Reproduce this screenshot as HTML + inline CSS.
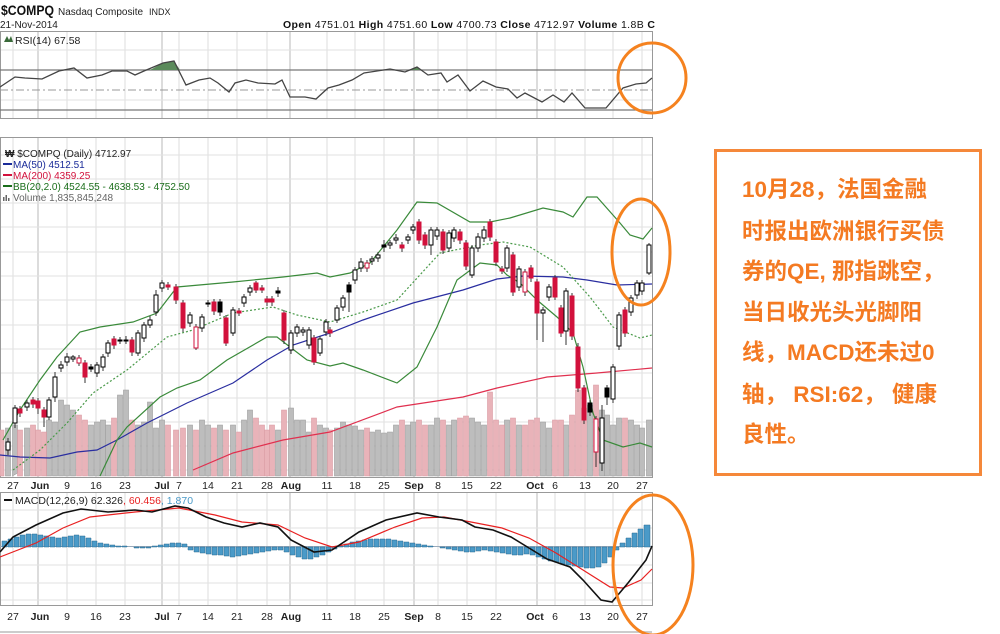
<!DOCTYPE html>
<html><head><meta charset="utf-8">
<style>
html,body{margin:0;padding:0;background:#fff;width:1000px;height:634px;overflow:hidden;}
.box{position:absolute;left:714px;top:149px;width:262px;height:321px;border:3px solid #f5883a;}
.t{position:absolute;left:742px;white-space:nowrap;font-family:"Liberation Sans","Noto Sans CJK SC",sans-serif;font-weight:bold;font-size:22.5px;line-height:26px;color:#f47a22;}
svg text{font-family:"Liberation Sans",sans-serif;}
.w{fill:#fff;stroke:#000;stroke-width:1}
.r{fill:#d2113c;stroke:#d2113c;stroke-width:1}
.k{fill:#000;stroke:#000;stroke-width:1}
.rw{fill:#fff;stroke:#d2113c;stroke-width:1}
</style></head><body>
<svg width="1000" height="634" style="position:absolute;left:0;top:0">
<rect x="0" y="0" width="1000" height="634" fill="#fff"/>
<!-- header -->
<text x="1" y="15" font-size="14" font-weight="bold" fill="#111" textLength="53" lengthAdjust="spacingAndGlyphs">$COMPQ</text>
<text x="58" y="15" font-size="10" fill="#222">Nasdaq Composite</text>
<text x="149" y="15" font-size="9" fill="#222">INDX</text>
<text x="0" y="28" font-size="10" fill="#222">21-Nov-2014</text>
<text x="283" y="28" font-size="10.5" fill="#111" textLength="372" lengthAdjust="spacing"><tspan font-weight="bold">Open</tspan> 4751.01 <tspan font-weight="bold">High</tspan> 4751.60 <tspan font-weight="bold">Low</tspan> 4700.73 <tspan font-weight="bold">Close</tspan> 4712.97 <tspan font-weight="bold">Volume</tspan> 1.8B <tspan font-weight="bold">C</tspan></text>

<!-- vertical gridlines all panels -->
<g stroke="#dcdcdc" stroke-width="1">
<path d="M13 31V118M13 137V477M13 492V605M67 31V118M67 137V477M67 492V605M96 31V118M96 137V477M96 492V605M125 31V118M125 137V477M125 492V605M179 31V118M179 137V477M179 492V605M208 31V118M208 137V477M208 492V605M237 31V118M237 137V477M237 492V605M267 31V118M267 137V477M267 492V605M327 31V118M327 137V477M327 492V605M355 31V118M355 137V477M355 492V605M384 31V118M384 137V477M384 492V605M438 31V118M438 137V477M438 492V605M467 31V118M467 137V477M467 492V605M496 31V118M496 137V477M496 492V605M555 31V118M555 137V477M555 492V605M585 31V118M585 137V477M585 492V605M613 31V118M613 137V477M613 492V605M642 31V118M642 137V477M642 492V605"/>
</g>
<g stroke="#b8b8b8" stroke-width="1">
<path d="M38 31V118M38 137V477M38 492V605M162 31V118M162 137V477M162 492V605M290 31V118M290 137V477M290 492V605M414 31V118M414 137V477M414 492V605M537 31V118M537 137V477M537 492V605"/>
</g>
<g stroke="#e2e2e2" stroke-width="1">
<path d="M0 155H652M0 179H652M0 203H652M0 227H652M0 252H652M0 276H652M0 300H652M0 325H652M0 349H652M0 373H652M0 398H652M0 422H652M0 446H652M0 470H652"/>
<path d="M0 510H652M0 528H652M0 565H652M0 583H652M0 600H652"/>
<path d="M0 50H652M0 100H652"/>
</g>
<g fill="none" stroke="#999" stroke-width="1">
<rect x="0.5" y="31.5" width="652" height="87"/>
<rect x="0.5" y="137.5" width="652" height="340"/>
<rect x="0.5" y="492.5" width="652" height="113"/>
</g>
<line x1="0" y1="632" x2="652" y2="632" stroke="#ccc" stroke-width="2"/>

<!-- RSI -->
<line x1="0" y1="70" x2="652" y2="70" stroke="#777" stroke-width="1.2"/>
<line x1="0" y1="110" x2="652" y2="110" stroke="#777" stroke-width="1.2"/>
<line x1="0" y1="90" x2="652" y2="90" stroke="#999" stroke-width="1" stroke-dasharray="8,3,2,3"/>
<path d="M150 70L163 63L174 61L180 70Z" fill="#5a8a5a"/>
<path d="M410 70L417 67L420 70Z" fill="#5a8a5a"/>
<polyline fill="none" stroke="#444" stroke-width="1.3" points="0,87 15,77 25,78 42,79 59,71 74,68 87,78 102,75 112,71 127,71 135,75 144,71 163,63 174,61 186,85 199,80 210,78 218,83 229,92 235,83 246,80 258,83 275,84 282,80 290,97 305,97 316,99 328,88 339,85 352,80 364,73 390,69 405,72 417,67 428,75 441,73 447,82 458,75 470,91 483,81 496,87 508,89 517,98 525,93 542,102 553,95 564,102 572,93 585,108 606,108 623,88 636,84 646,83 652,78"/>
<path d="M4 42l3-6 2 4 2-4 2 6z" fill="#3a6a3a"/>
<text x="15" y="44" font-size="10.5" fill="#222">RSI(14) 67.58</text>

<!-- main legend -->
<text x="5" y="157" font-size="10" fill="#222"><tspan font-weight="bold">₩</tspan> $COMPQ (Daily) 4712.97</text>
<line x1="3" y1="164" x2="12" y2="164" stroke="#1a2b99" stroke-width="2"/>
<text x="13" y="168" font-size="10" fill="#1a2b99">MA(50) 4512.51</text>
<line x1="3" y1="175" x2="12" y2="175" stroke="#d2113c" stroke-width="2"/>
<text x="13" y="179" font-size="10" fill="#d2113c">MA(200) 4359.25</text>
<line x1="3" y1="186" x2="12" y2="186" stroke="#1a6e1a" stroke-width="2"/>
<text x="13" y="190" font-size="10" fill="#1a6e1a">BB(20,2.0) 4524.55 - 4638.53 - 4752.50</text>
<path d="M3 201v-4h1.5v4zM5.5 201v-6h1.5v6zM8 201v-3h1.5v3z" fill="#666"/>
<text x="13" y="201" font-size="10" fill="#666">Volume 1,835,845,248</text>

<!-- volume -->
<path fill="#bdbdbd" stroke="#9a9a9a" stroke-width="0.6" d="M5.5 476V428h5v48zM12.5 476V425h5v48zM24.5 476V428h5v48zM46.5 476V420h5v56zM52.5 476V422h5v54zM58.5 476V400h5v76zM64.5 476V405h5v71zM70.5 476V410h5v66zM88.5 476V425h5v51zM94.5 476V422h5v54zM100.5 476V420h5v56zM105.5 476V425h5v51zM117.5 476V395h5v81zM123.5 476V390h5v86zM135.5 476V425h5v51zM141.5 476V422h5v54zM147.5 476V402h5v74zM153.5 476V428h5v48zM159.5 476V420h5v56zM187.5 476V425h5v51zM199.5 476V420h5v56zM205.5 476V425h5v51zM217.5 476V425h5v51zM230.5 476V425h5v51zM241.5 476V420h5v56zM247.5 476V410h5v66zM275.5 476V430h5v46zM288.5 476V408h5v68zM294.5 476V420h5v56zM300.5 476V420h5v56zM306.5 476V432h5v44zM317.5 476V425h5v51zM323.5 476V428h5v48zM334.5 476V428h5v48zM340.5 476V422h5v54zM346.5 476V425h5v51zM352.5 476V426h5v50zM358.5 476V430h5v46zM369.5 476V432h5v44zM375.5 476V430h5v46zM381.5 476V433h5v43zM387.5 476V432h5v44zM393.5 476V425h5v51zM405.5 476V425h5v51zM410.5 476V422h5v54zM428.5 476V425h5v51zM434.5 476V418h5v58zM446.5 476V425h5v51zM451.5 476V420h5v56zM469.5 476V418h5v58zM475.5 476V422h5v54zM481.5 476V425h5v51zM504.5 476V420h5v56zM516.5 476V425h5v51zM540.5 476V422h5v54zM546.5 476V428h5v48zM563.5 476V425h5v51zM587.5 476V405h5v71zM599.5 476V410h5v66zM604.5 476V415h5v61zM610.5 476V425h5v51zM616.5 476V418h5v58zM628.5 476V420h5v56zM634.5 476V425h5v51zM639.5 476V428h5v48zM646.5 476V420h5v56z"/>
<path fill="#e9b3b9" stroke="#d99aa2" stroke-width="0.6" d="M0 476V430h4v46zM17.5 476V430h5v46zM30.5 476V425h5v51zM35.5 476V430h5v46zM41.5 476V432h5v44zM76.5 476V415h5v61zM82.5 476V420h5v56zM111.5 476V418h5v58zM129.5 476V420h5v56zM165.5 476V425h5v51zM173.5 476V430h5v46zM180.5 476V428h5v48zM193.5 476V430h5v46zM211.5 476V428h5v48zM223.5 476V430h5v46zM236.5 476V432h5v44zM253.5 476V418h5v58zM259.5 476V425h5v51zM264.5 476V430h5v46zM269.5 476V425h5v51zM281.5 476V410h5v66zM311.5 476V418h5v58zM327.5 476V430h5v46zM364.5 476V428h5v48zM399.5 476V420h5v56zM416.5 476V420h5v56zM422.5 476V425h5v51zM440.5 476V420h5v56zM457.5 476V418h5v58zM463.5 476V416h5v60zM487.5 476V392h5v84zM493.5 476V420h5v56zM499.5 476V425h5v51zM510.5 476V418h5v58zM522.5 476V425h5v51zM528.5 476V420h5v56zM534.5 476V418h5v58zM552.5 476V420h5v56zM558.5 476V420h5v56zM569.5 476V415h5v61zM575.5 476V390h5v86zM581.5 476V408h5v68zM593.5 476V385h5v91zM622.5 476V418h5v58z"/>

<polyline fill="none" stroke="#e0304f" stroke-width="1.2" points="193,470 233,453 283,440 330,432 397,407 463,397 497,388 547,377 597,373 652,368"/>
<polyline fill="none" stroke="#2a2ea0" stroke-width="1.2" points="0,455 20,457 50,458 77,452 97,450 117,440 147,423 187,403 233,383 267,360 293,345 330,333 363,320 413,303 463,290 497,279 523,276 563,277 587,280 617,285 652,284"/>
<polyline fill="none" stroke="#3a8a3a" stroke-width="1.2" points="3,440 20,410 40,380 57,357 80,332 100,327 133,322 157,313 177,287 233,282 283,277 317,273 330,277 350,273 370,263 397,230 417,202 437,203 470,222 490,222 510,218 543,208 563,212 573,217 587,197 597,197 620,223 630,235 643,239 652,228"/>
<polyline fill="none" stroke="#3a8a3a" stroke-width="1.2" points="100,476 117,440 127,427 160,397 177,388 200,380 227,360 267,337 277,337 290,347 307,360 330,366 343,363 363,370 397,383 417,367 437,327 457,280 480,263 497,265 507,275 520,283 537,300 557,317 573,333 583,367 593,413 603,440 623,447 640,443 652,447"/>
<polyline fill="none" stroke="#4a9a4a" stroke-width="1.2" stroke-dasharray="2,2" points="13,470 40,450 67,423 93,393 127,370 167,337 193,330 233,313 273,307 297,315 330,322 363,312 397,300 440,253 480,245 503,242 530,247 563,267 590,297 613,327 640,338 652,335"/>

<path stroke="#333" stroke-width="1" fill="none" d="M8 438V455M15 405V428M20 406V417M27 400V411M33 397V408M38 398V414M44 407V427M49 397V420M55 372V402M61 361V372M67 353V366M73 355V362M79 355V366M85 360V383M91 364V372M97 362V377M103 354V371M108 340V357M114 336V349M120 337V344M126 336V344M132 337V356M138 330V356M144 322V342M150 316V328M156 290V316M162 280V292M168 282V290M176 284V304M183 300V332M190 312V327M196 324V350M202 314V332M208 300V307M214 299V315M220 299V316M226 315V346M233 307V336M239 308V316M244 294V307M250 285V296M256 281V293M262 285V293M267 296V306M272 296V306M278 287V297M284 310V344M291 330V354M297 324V337M303 327V336M309 327V349M314 335V365M320 336V356M326 319V336M330 327V337M337 305V323M343 295V311M349 282V312M355 267V284M361 258V272M367 260V272M372 256V265M378 252V262M384 240V252M390 240V249M396 234V244M402 242V252M408 234V244M413 224V234M419 219V244M425 232V249M431 227V255M437 227V240M443 229V254M449 230V252M454 227V242M460 229V244M466 240V270M472 245V278M478 233V252M484 226V242M490 219V241M496 239V266M502 266V274M507 245V272M513 252V296M519 266V291M525 269V296M531 265V282M537 279V340M543 307V342M549 284V301M555 275V300M561 305V337M566 288V345M572 293V340M578 343V392M584 385V424M590 400V416M596 416V467M602 405V471M607 385V405M613 364V403M619 312V350M625 307V337M631 295V316M637 280V299M642 280V295M649 243V275"/>
<g>
<rect x="6" y="442" width="4" height="8" class="w"/><rect x="13" y="408" width="4" height="15" class="w"/><rect x="18" y="409" width="4" height="4" class="r"/><rect x="25" y="403" width="4" height="4" class="w"/><rect x="31" y="400" width="4" height="4" class="r"/><rect x="36" y="401" width="4" height="7" class="r"/><rect x="42" y="410" width="4" height="7" class="r"/><rect x="47" y="400" width="4" height="17" class="w"/><rect x="53" y="377" width="4" height="20" class="w"/><rect x="59" y="365" width="4" height="3" class="w"/><rect x="65" y="357" width="4" height="5" class="w"/><rect x="71" y="357" width="4" height="2" class="w"/><rect x="77" y="358" width="4" height="5" class="rw"/><rect x="83" y="363" width="4" height="14" class="r"/><rect x="89" y="367" width="4" height="2" class="k"/><rect x="95" y="365" width="4" height="8" class="w"/><rect x="101" y="357" width="4" height="10" class="w"/><rect x="106" y="343" width="4" height="10" class="w"/><rect x="112" y="339" width="4" height="6" class="r"/><rect x="118" y="340" width="4" height="1" class="k"/><rect x="124" y="340" width="4" height="1" class="k"/><rect x="130" y="340" width="4" height="12" class="r"/><rect x="136" y="333" width="4" height="20" class="w"/><rect x="142" y="325" width="4" height="13" class="w"/><rect x="148" y="320" width="4" height="5" class="w"/><rect x="154" y="295" width="4" height="17" class="w"/><rect x="160" y="283" width="4" height="5" class="w"/><rect x="166" y="285" width="4" height="2" class="r"/><rect x="174" y="287" width="4" height="13" class="r"/><rect x="181" y="303" width="4" height="25" class="r"/><rect x="188" y="315" width="4" height="8" class="w"/><rect x="194" y="327" width="4" height="21" class="rw"/><rect x="200" y="317" width="4" height="11" class="w"/><rect x="206" y="303" width="4" height="1" class="k"/><rect x="212" y="302" width="4" height="9" class="r"/><rect x="218" y="302" width="4" height="10" class="k"/><rect x="224" y="318" width="4" height="25" class="r"/><rect x="231" y="310" width="4" height="23" class="w"/><rect x="237" y="311" width="4" height="2" class="r"/><rect x="242" y="297" width="4" height="6" class="w"/><rect x="248" y="288" width="4" height="4" class="w"/><rect x="254" y="283" width="4" height="7" class="r"/><rect x="260" y="288" width="4" height="2" class="r"/><rect x="265" y="299" width="4" height="3" class="r"/><rect x="270" y="299" width="4" height="3" class="r"/><rect x="276" y="291" width="4" height="2" class="k"/><rect x="282" y="313" width="4" height="27" class="r"/><rect x="289" y="333" width="4" height="17" class="w"/><rect x="295" y="327" width="4" height="6" class="w"/><rect x="301" y="330" width="4" height="2" class="w"/><rect x="307" y="330" width="4" height="15" class="w"/><rect x="312" y="338" width="4" height="24" class="r"/><rect x="318" y="339" width="4" height="14" class="w"/><rect x="324" y="322" width="4" height="10" class="w"/><rect x="328" y="330" width="4" height="3" class="r"/><rect x="335" y="308" width="4" height="12" class="w"/><rect x="341" y="298" width="4" height="9" class="w"/><rect x="347" y="285" width="4" height="7" class="k"/><rect x="353" y="270" width="4" height="10" class="w"/><rect x="359" y="262" width="4" height="6" class="w"/><rect x="365" y="263" width="4" height="5" class="rw"/><rect x="370" y="259" width="4" height="2" class="w"/><rect x="376" y="255" width="4" height="3" class="w"/><rect x="382" y="245" width="4" height="2" class="k"/><rect x="388" y="243" width="4" height="2" class="w"/><rect x="394" y="238" width="4" height="2" class="w"/><rect x="400" y="245" width="4" height="3" class="r"/><rect x="406" y="237" width="4" height="3" class="w"/><rect x="411" y="227" width="4" height="3" class="w"/><rect x="417" y="222" width="4" height="18" class="r"/><rect x="423" y="235" width="4" height="10" class="r"/><rect x="429" y="230" width="4" height="15" class="w"/><rect x="435" y="230" width="4" height="6" class="w"/><rect x="441" y="232" width="4" height="18" class="r"/><rect x="447" y="233" width="4" height="15" class="w"/><rect x="452" y="230" width="4" height="8" class="w"/><rect x="458" y="232" width="4" height="8" class="r"/><rect x="464" y="243" width="4" height="23" class="r"/><rect x="470" y="248" width="4" height="27" class="w"/><rect x="476" y="237" width="4" height="11" class="w"/><rect x="482" y="230" width="4" height="8" class="w"/><rect x="488" y="222" width="4" height="15" class="r"/><rect x="494" y="242" width="4" height="20" class="r"/><rect x="500" y="269" width="4" height="2" class="r"/><rect x="505" y="248" width="4" height="20" class="w"/><rect x="511" y="255" width="4" height="37" class="r"/><rect x="517" y="269" width="4" height="18" class="w"/><rect x="523" y="272" width="4" height="20" class="rw"/><rect x="529" y="268" width="4" height="10" class="r"/><rect x="535" y="282" width="4" height="31" class="r"/><rect x="541" y="310" width="4" height="3" class="w"/><rect x="547" y="287" width="4" height="10" class="w"/><rect x="553" y="278" width="4" height="19" class="r"/><rect x="559" y="308" width="4" height="25" class="r"/><rect x="564" y="291" width="4" height="40" class="w"/><rect x="570" y="296" width="4" height="40" class="r"/><rect x="576" y="347" width="4" height="41" class="r"/><rect x="582" y="388" width="4" height="32" class="r"/><rect x="588" y="403" width="4" height="9" class="k"/><rect x="594" y="419" width="4" height="33" class="rw"/><rect x="600" y="418" width="4" height="45" class="w"/><rect x="605" y="388" width="4" height="9" class="k"/><rect x="611" y="367" width="4" height="32" class="w"/><rect x="617" y="315" width="4" height="31" class="w"/><rect x="623" y="310" width="4" height="23" class="r"/><rect x="629" y="298" width="4" height="14" class="w"/><rect x="635" y="283" width="4" height="12" class="w"/><rect x="640" y="283" width="4" height="8" class="w"/><rect x="647" y="245" width="4" height="28" class="w"/>
</g>

<g font-size="10.5" fill="#222" text-anchor="middle">
<text x="13" y="489">27</text><text x="40" y="489" font-weight="bold">Jun</text><text x="67" y="489">9</text><text x="96" y="489">16</text><text x="125" y="489">23</text><text x="162" y="489" font-weight="bold">Jul</text><text x="179" y="489">7</text><text x="208" y="489">14</text><text x="237" y="489">21</text><text x="267" y="489">28</text><text x="291" y="489" font-weight="bold">Aug</text><text x="327" y="489">11</text><text x="355" y="489">18</text><text x="384" y="489">25</text><text x="414" y="489" font-weight="bold">Sep</text><text x="438" y="489">8</text><text x="467" y="489">15</text><text x="496" y="489">22</text><text x="535" y="489" font-weight="bold">Oct</text><text x="555" y="489">6</text><text x="585" y="489">13</text><text x="613" y="489">20</text><text x="642" y="489">27</text>
<text x="13" y="620">27</text><text x="40" y="620" font-weight="bold">Jun</text><text x="67" y="620">9</text><text x="96" y="620">16</text><text x="125" y="620">23</text><text x="162" y="620" font-weight="bold">Jul</text><text x="179" y="620">7</text><text x="208" y="620">14</text><text x="237" y="620">21</text><text x="267" y="620">28</text><text x="291" y="620" font-weight="bold">Aug</text><text x="327" y="620">11</text><text x="355" y="620">18</text><text x="384" y="620">25</text><text x="414" y="620" font-weight="bold">Sep</text><text x="438" y="620">8</text><text x="467" y="620">15</text><text x="496" y="620">22</text><text x="535" y="620" font-weight="bold">Oct</text><text x="555" y="620">6</text><text x="585" y="620">13</text><text x="613" y="620">20</text><text x="642" y="620">27</text>
</g>

<line x1="0" y1="546.5" x2="652" y2="546.5" stroke="#9ab" stroke-width="1"/>
<path fill="#4a9ac8" stroke="#2a6a90" stroke-width="0.5" d="M2 547v-6h5v6zM8 547v-8h5v8zM14 547v-10h5v10zM20 547v-12h5v12zM26 547v-13h5v13zM32 547v-13h5v13zM38 547v-12h5v12zM44 547v-11h5v11zM50 547v-10h5v10zM56 547v-9h5v9zM62 547v-10h5v10zM68 547v-11h5v11zM74 547v-12h5v12zM80 547v-11h5v11zM86 547v-9h5v9zM92 547v-6h5v6zM98 547v-4h5v4zM104 547v-3h5v3zM110 547v-2h5v2zM116 547v-1h5v1zM122 547v-1h5v1zM134 547v1h5v-1zM140 547v1h5v-1zM146 547v1h5v-1zM152 547v-1h5v1zM158 547v-2h5v2zM164 547v-3h5v3zM170 547v-4h5v4zM176 547v-4h5v4zM182 547v-3h5v3zM188 547v3h5v-3zM194 547v5h5v-5zM200 547v6h5v-6zM206 547v7h5v-7zM212 547v8h5v-8zM218 547v8h5v-8zM224 547v9h5v-9zM230 547v10h5v-10zM236 547v9h5v-9zM242 547v8h5v-8zM248 547v7h5v-7zM254 547v6h5v-6zM260 547v5h5v-5zM266 547v4h5v-4zM272 547v3h5v-3zM278 547v3h5v-3zM284 547v5h5v-5zM290 547v8h5v-8zM296 547v10h5v-10zM302 547v12h5v-12zM308 547v12h5v-12zM314 547v10h5v-10zM320 547v8h5v-8zM326 547v5h5v-5zM332 547v2h5v-2zM338 547v-1h5v1zM344 547v-3h5v3zM350 547v-5h5v5zM356 547v-6h5v6zM362 547v-7h5v7zM368 547v-8h5v8zM374 547v-8h5v8zM380 547v-8h5v8zM386 547v-8h5v8zM392 547v-7h5v7zM398 547v-6h5v6zM404 547v-5h5v5zM410 547v-4h5v4zM416 547v-3h5v3zM422 547v-2h5v2zM428 547v-1h5v1zM440 547v1h5v-1zM446 547v2h5v-2zM452 547v3h5v-3zM458 547v4h5v-4zM464 547v5h5v-5zM470 547v5h5v-5zM476 547v4h5v-4zM482 547v3h5v-3zM488 547v4h5v-4zM494 547v5h5v-5zM500 547v6h5v-6zM506 547v7h5v-7zM512 547v8h5v-8zM518 547v8h5v-8zM524 547v7h5v-7zM530 547v8h5v-8zM536 547v10h5v-10zM542 547v12h5v-12zM548 547v14h5v-14zM554 547v15h5v-15zM560 547v17h5v-17zM566 547v18h5v-18zM572 547v19h5v-19zM578 547v20h5v-20zM584 547v21h5v-21zM590 547v21h5v-21zM596 547v20h5v-20zM602 547v16h5v-16zM608 547v10h5v-10zM614 547v3h5v-3zM620 547v-4h5v4zM626 547v-9h5v9zM632 547v-14h5v14zM638 547v-18h5v18zM644 547v-22h6v22z"/>
<polyline fill="none" stroke="#e82020" stroke-width="1.2" points="0,557 36,543 63,528 90,517 135,512 179,508 215,515 242,522 278,525 305,538 332,547 359,542 395,527 422,518 444,517 471,522 502,528 529,538 556,553 583,570 610,587 623,588 641,580 652,569"/>
<polyline fill="none" stroke="#111" stroke-width="1.6" points="0,552 13,537 36,525 63,513 81,509 108,512 135,510 152,512 175,506 188,508 206,517 224,523 242,527 260,523 278,527 291,540 314,552 332,550 359,532 386,520 417,513 439,517 462,520 475,527 493,530 511,537 529,548 547,559 570,567 583,580 601,600 612,602 628,583 646,560 652,546"/>
<line x1="4" y1="500" x2="12" y2="500" stroke="#111" stroke-width="2"/>
<text x="15" y="504" font-size="10.5" fill="#222">MACD(12,26,9) 62.326<tspan fill="#e82020">, 60.456</tspan><tspan fill="#4a9ac8">, 1.870</tspan></text>

<g fill="none" stroke="#f5821f" stroke-width="3">
<ellipse cx="652" cy="78" rx="34" ry="35"/>
<ellipse cx="641" cy="252" rx="29" ry="53"/>
<ellipse cx="653" cy="565" rx="40" ry="70"/>
</g>
</svg>
<div class="box"></div>
<div class="t" style="top:177px">10月28，法国金融</div>
<div class="t" style="top:219px">时报出欧洲银行买债</div>
<div class="t" style="top:259px">券的QE, 那指跳空，</div>
<div class="t" style="top:300px">当日收光头光脚阳</div>
<div class="t" style="top:340px">线，MACD还未过0</div>
<div class="t" style="top:382px">轴， RSI:62， 健康</div>
<div class="t" style="top:422px">良性。</div>
</body></html>
